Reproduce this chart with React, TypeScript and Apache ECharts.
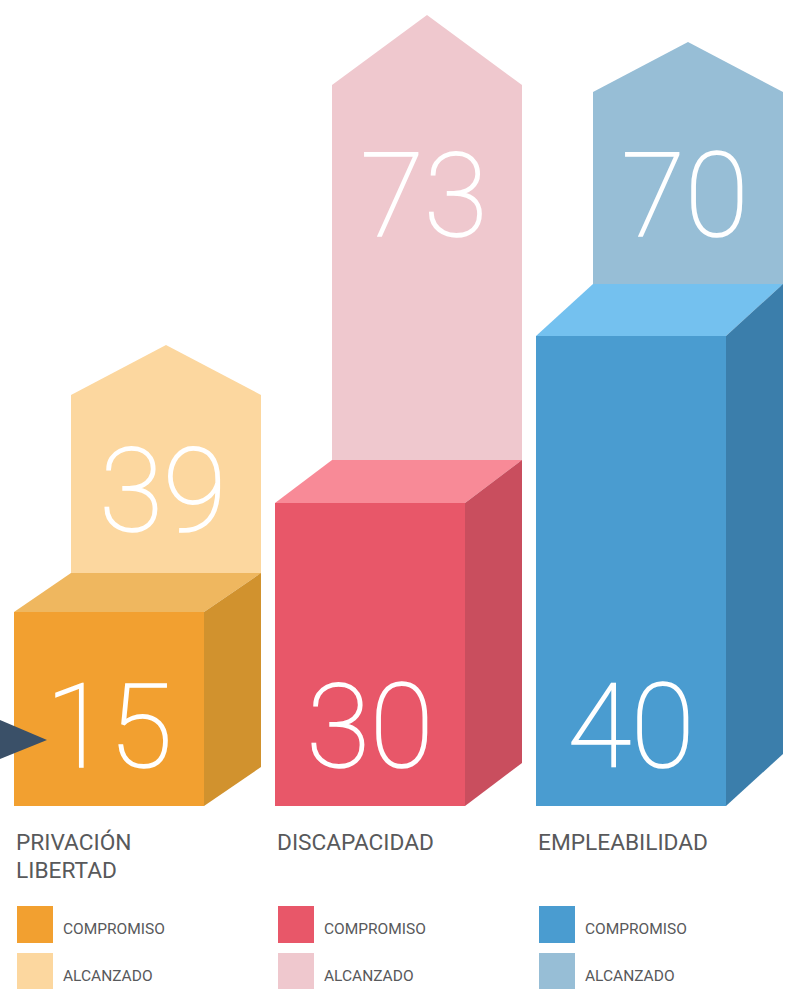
import React, { useEffect, useRef } from "react";
import * as echarts from "echarts";

const categories = ["PRIVACIÓN\nLIBERTAD", "DISCAPACIDAD", "EMPLEABILIDAD"];
const legendNames = ["COMPROMISO", "ALCANZADO"];
const compromisoValues = [15, 30, 40];
const alcanzadoValues = [39, 73, 70];
// Drawn heights (the bars are not proportional to their labels).
const compromisoHeights = [194, 303, 470];
const alcanzadoShoulders = [411, 721, 714];
const alcanzadoApexes = [461, 791, 764];

const frontColors = ["#F2A030", "#E85769", "#4A9CD0"];
const topColors = ["#EFB75F", "#F88A97", "#74C1EF"];
const sideColors = ["#D1922E", "#C94E5E", "#3B7EAB"];
const backColors = ["#FCD79F", "#EFC8CE", "#97BED6"];

const FRONT_W = 190;
const DEPTH_X = 57;
const DEPTH_Y = [39, 43, 52];
const BACK_LABEL_Y = [491, 196, 196];
const FRONT_LABEL_Y = 727;
const TEXT = "#58595B";
const NUM_STYLE = {
  fill: "#FFFFFF",
  stroke: "#FFFFFF",
  lineWidth: 1.6,
  font: '100 116px Roboto, "Noto Sans", sans-serif',
  align: "center",
  verticalAlign: "middle",
};

export default function App() {
  const ref = useRef<HTMLDivElement>(null);
  useEffect(() => {
    document.body.style.margin = "0";
    const chart = echarts.init(ref.current!, null, { renderer: "svg" });

    const blockLeft = (cx: number) => cx - (FRONT_W + DEPTH_X) / 2;

    const renderBack = (_p: any, api: any) => {
      const i = api.value(0);
      const cx = api.coord([i, 0])[0];
      const shoulder = api.coord([i, api.value(1)])[1];
      const apex = api.coord([i, api.value(2)])[1];
      const right = blockLeft(cx) + FRONT_W + DEPTH_X;
      const left = right - FRONT_W;
      const floor = api.coord([i, compromisoHeights[i]])[1] - DEPTH_Y[i] + 2;
      return {
        type: "group",
        children: [
          {
            type: "polygon",
            shape: {
              points: [
                [left, floor],
                [left, shoulder],
                [(left + right) / 2, apex],
                [right, shoulder],
                [right, floor],
              ],
            },
            style: { fill: backColors[i] },
          },
          {
            type: "text",
            style: {
              ...NUM_STYLE,
              text: String(api.value(3)),
              x: (left + right) / 2 - 3,
              y: BACK_LABEL_Y[i],
            },
          },
        ],
      };
    };

    const renderFront = (_p: any, api: any) => {
      const i = api.value(0);
      const cx = api.coord([i, 0])[0];
      const base = api.coord([i, 0])[1];
      const top = api.coord([i, api.value(1)])[1];
      const l = blockLeft(cx);
      const r = l + FRONT_W;
      const d = DEPTH_Y[i];
      const legendX = l + 3;
      const swatch = (y: number, fill: string) => ({
        type: "rect",
        shape: { x: legendX, y, width: 36, height: 37 },
        style: { fill },
      });
      const legendText = (y: number, text: string) => ({
        type: "text",
        style: {
          text,
          x: legendX + 46,
          y,
          fill: TEXT,
          font: '15.5px Roboto, "Noto Sans", sans-serif',
          align: "left",
          verticalAlign: "middle",
        },
      });
      return {
        type: "group",
        children: [
          {
            type: "polygon",
            shape: { points: [[l, top], [r, top], [r + DEPTH_X, top - d], [l + DEPTH_X, top - d]] },
            style: { fill: topColors[i] },
          },
          {
            type: "polygon",
            shape: { points: [[r, top], [r + DEPTH_X, top - d], [r + DEPTH_X, base - d], [r, base]] },
            style: { fill: sideColors[i] },
          },
          {
            type: "rect",
            shape: { x: l, y: top, width: FRONT_W, height: base - top },
            style: { fill: frontColors[i] },
          },
          {
            type: "text",
            style: {
              ...NUM_STYLE,
              text: String(api.value(2)),
              x: l + FRONT_W / 2,
              y: FRONT_LABEL_Y,
            },
          },
          {
            type: "text",
            style: {
              text: categories[i],
              x: l + 2,
              y: base + 22,
              fill: TEXT,
              font: '22.7px Roboto, "Noto Sans", sans-serif',
              lineHeight: 28,
              align: "left",
              verticalAlign: "top",
            },
          },
          swatch(base + 100, frontColors[i]),
          swatch(base + 147, backColors[i]),
          legendText(base + 123, legendNames[0]),
          legendText(base + 170, legendNames[1]),
        ],
      };
    };

    chart.setOption({
      animation: false,
      backgroundColor: "#FFFFFF",
      grid: { left: 7, top: 0, width: 783, height: 806 },
      xAxis: { type: "category", data: categories, show: false },
      yAxis: { type: "value", min: 0, max: 806, show: false },
      series: [
        {
          name: "Alcanzado",
          type: "custom",
          renderItem: renderBack,
          encode: { x: 0, y: 1 },
          data: categories.map((_, i) => [i, alcanzadoShoulders[i], alcanzadoApexes[i], alcanzadoValues[i]]),
          z: 1,
        },
        {
          name: "Compromiso",
          type: "custom",
          renderItem: renderFront,
          encode: { x: 0, y: 1 },
          data: categories.map((_, i) => [i, compromisoHeights[i], compromisoValues[i]]),
          z: 2,
        },
      ],
      graphic: [
        {
          type: "polygon",
          z: 10,
          shape: { points: [[0, 720], [47, 740], [0, 759]] },
          style: { fill: "#3A5068" },
        },
      ],
    });
    return () => chart.dispose();
  }, []);
  return <div ref={ref} style={{ width: 795, height: 989 }} />;
}
